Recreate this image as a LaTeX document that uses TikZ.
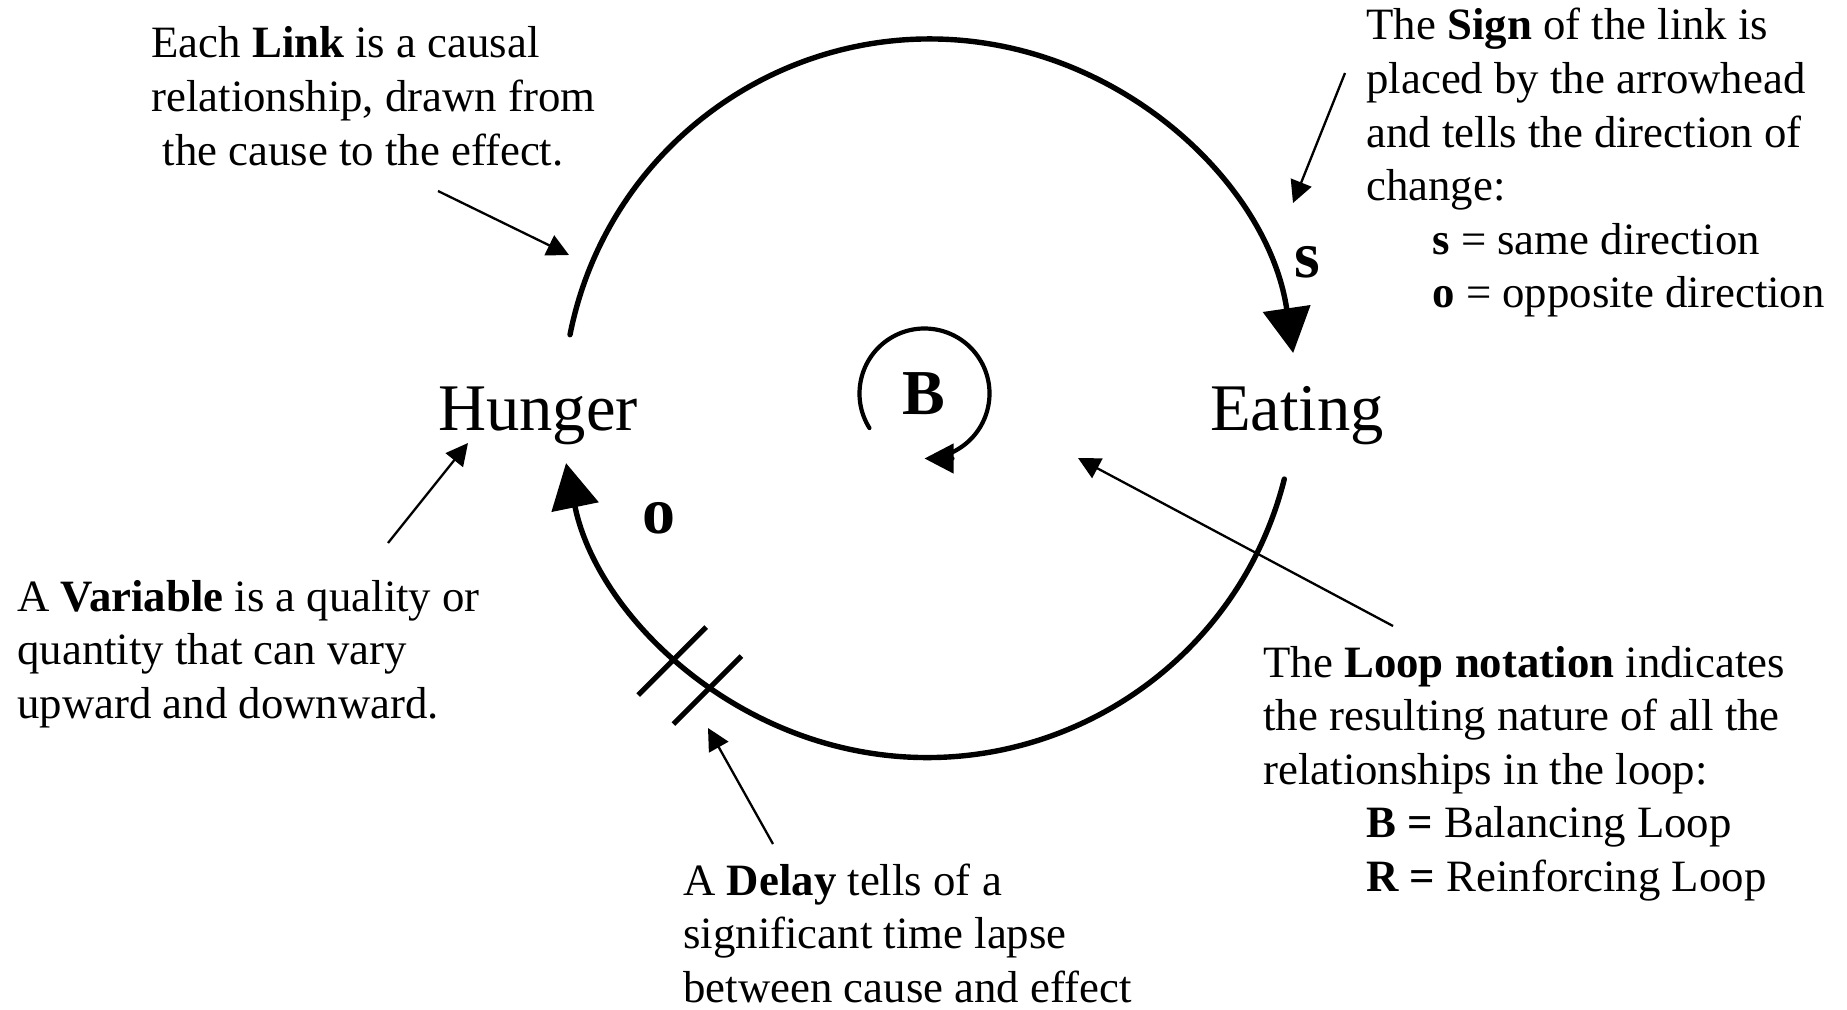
\documentclass[tikz,border=0pt]{standalone}
\usepackage{fontspec}
\setmainfont{Liberation Serif}
\usetikzlibrary{arrows.meta,calc}

\newcommand{\bodysize}{\fontsize{22.4pt}{26.8pt}\selectfont}

\tikzset{
  note/.style={anchor=base west, inner sep=0pt, font=\bodysize},
  varlabel/.style={anchor=base, inner sep=0pt, font=\fontsize{33.3pt}{40pt}\selectfont},
  polarity/.style={anchor=base, inner sep=0pt, font=\fontsize{33pt}{40pt}\selectfont\bfseries},
  causal/.style={line width=2.7pt, line cap=round, -{Triangle[length=22.5pt,width=23.5pt]}},
  pointer/.style={line width=1.15pt, -{Triangle[length=11pt,width=11pt]}},
  delaymark/.style={line width=2.6pt},
  looparrow/.style={line width=2.1pt, line cap=round, -{Triangle[length=14.5pt,width=14.5pt]}},
}

\begin{document}
\begin{tikzpicture}[x=0.5pt, y=-0.5pt]
  \fill[white] (0,0) rectangle (1847,1010);
  \useasboundingbox (0,0) rectangle (1847,1010);

  % centres of the two link arcs and of the loop symbol
  \coordinate (upperC) at (930,406);
  \coordinate (lowerC) at (927,389);
  \coordinate (loopC)  at (924.5,393.5);

  % variables and polarity signs
  \node[varlabel] (hunger) at (538,430) {Hunger};
  \node[varlabel] (eating) at (1297,430) {Eating};
  \node[polarity] (signS) at (1307,278) {s};
  \node[polarity] (signO) at (659,533) {o};
  \node[polarity, font=\fontsize{32pt}{38pt}\selectfont\bfseries] (loopB) at (923.5,415) {B};

  % end points of the causal links on their arcs
  \coordinate (hungerOut) at ($(upperC)+(191.2:367)$);
  \coordinate (eatingOut) at ($(lowerC)+(14.15:368.5)$);
  \coordinate (loopStart) at ($(loopC)+(147.9:65)$);

  % Hunger -> Eating (s) and Eating -> Hunger (o)
  \draw[causal] (hungerOut) arc[start angle=191.2, end angle=351.7, radius=367];
  \draw[causal] (eatingOut) arc[start angle=14.15, end angle=168.4, radius=368.5];

  % delay marks across the lower link
  \coordinate (delayA) at ($(lowerC)+(133.1:368.5)$);
  \coordinate (delayB) at ($(lowerC)+(126.0:368.5)$);
  \draw[delaymark] ($(delayA)+(-37,37)$) -- ($(delayA)+(31,-31)$);
  \draw[delaymark] ($(delayB)+(-37,37)$) -- ($(delayB)+(31,-31)$);

  % loop symbol
  \draw[looparrow] (loopStart) arc[start angle=147.9, end angle=450, radius=65];

  % explanatory notes
  \node[note] (linkNote) at (151,58) {\begin{tabular}[t]{@{}l@{}}
    Each \textbf{Link} is a causal\\
    relationship, drawn from\\
    \hspace{0.25em}the cause to the effect.\end{tabular}};
  \node[note] (signNote) at (1366,40) {\begin{tabular}[t]{@{}l@{}}
    The \textbf{Sign} of the link is\\
    placed by the arrowhead\\
    and tells the direction of\\
    change:\\
    \hspace{33pt}\textbf{s} = same direction\\
    \hspace{33pt}\textbf{o} = opposite direction\end{tabular}};
  \node[note] (varNote) at (17,611) {\begin{tabular}[t]{@{}l@{}}
    A \textbf{Variable} is a quality or\\
    quantity that can vary\\
    upward and downward.\end{tabular}};
  \node[note] (delayNote) at (683,895) {\begin{tabular}[t]{@{}l@{}}
    A \textbf{Delay} tells of a\\
    significant time lapse\\
    between cause and effect\end{tabular}};
  \node[note] (loopNote) at (1263,677) {\begin{tabular}[t]{@{}l@{}}
    The \textbf{Loop notation} indicates\\
    the resulting nature of all the\\
    relationships in the loop:\\
    \hspace{51.5pt}\textbf{B =} Balancing Loop\\
    \hspace{51.5pt}\textbf{R =} Reinforcing Loop\end{tabular}};

  % pointer ends
  \coordinate (linkTail)  at (438,191);  \coordinate (linkHead)  at (569,255);
  \coordinate (signTail)  at (1345,73);  \coordinate (signHead)  at (1293,203);
  \coordinate (varTail)   at (388,543);  \coordinate (varHead)   at (468,443);
  \coordinate (delayTail) at (773,844);  \coordinate (delayHead) at (708,728);
  \coordinate (loopTail)  at (1393,626); \coordinate (loopHead)  at (1078,458);

  \draw[pointer] (linkTail) -- (linkHead);
  \draw[pointer] (signTail) -- (signHead);
  \draw[pointer] (varTail) -- (varHead);
  \draw[pointer] (delayTail) -- (delayHead);
  \draw[pointer] (loopTail) -- (loopHead);
\end{tikzpicture}
\end{document}
